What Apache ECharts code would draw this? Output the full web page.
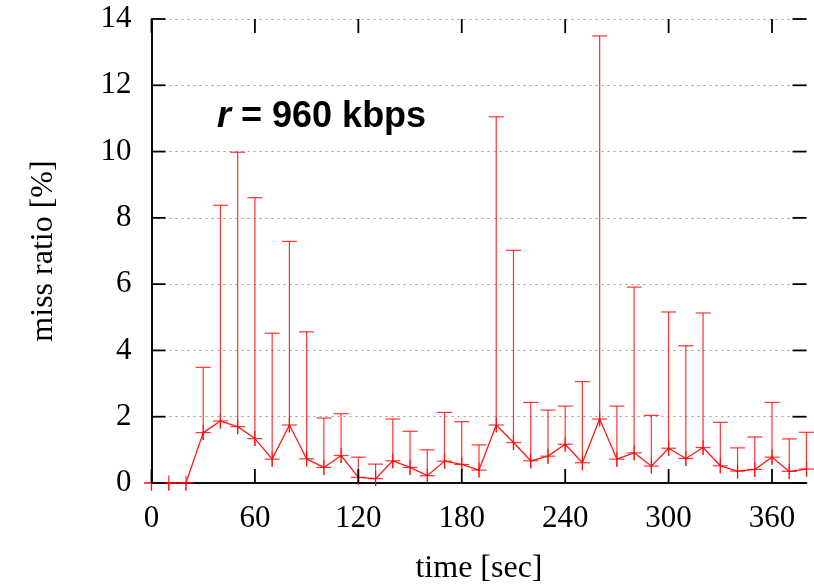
<!DOCTYPE html>
<html>
<head>
<meta charset="utf-8">
<script src="https://cdn.jsdelivr.net/npm/echarts@6/dist/echarts.min.js"></script>
<style>html,body{margin:0;padding:0;background:#fff}#c{width:814px;height:586px}</style>
</head>
<body>
<div id="c"></div>
<script>
const times = [0,10,20,30,40,50,60,70,80,90,100,110,120,130,140,150,160,170,180,190,200,210,220,230,240,250,260,270,280,290,300,310,320,330,340,350,360,370,380];
const meanRatio = [0,0,0,1.52,1.87,1.70,1.34,0.72,1.75,0.73,0.47,0.83,0.17,0.13,0.67,0.47,0.22,0.66,0.56,0.39,1.75,1.22,0.67,0.81,1.17,0.61,1.93,0.72,0.91,0.51,1.05,0.74,1.07,0.52,0.36,0.41,0.78,0.35,0.42];
const maxRatio = [0,0,0,3.49,8.38,9.98,8.61,4.52,7.29,4.56,1.96,2.09,0.78,0.57,1.93,1.56,1.00,2.13,1.85,1.15,11.05,7.02,2.43,2.20,2.32,3.06,13.49,2.32,5.91,2.04,5.16,4.14,5.13,1.83,1.06,1.39,2.43,1.33,1.53];
const xTicks = [0,60,120,180,240,300,360];
const yTicks = [0,2,4,6,8,10,12,14];
const xMax = 380, yMax = 14;

const serif = '"Liberation Serif", "DejaVu Serif", serif';
const red = 'rgba(255,0,0,0.8)';
const chart = echarts.init(document.getElementById('c'), null, {renderer: 'canvas'});

const lineData = times.map((t, i) => [t, meanRatio[i]]);
const errData = times.map((t, i) => [t, meanRatio[i], maxRatio[i]]);
const TICK = 14;
const tickLine = {stroke: '#000', lineWidth: 1.8};

const lineStyleAx = {show: true, lineStyle: {color: '#000', width: 1.6}};

chart.setOption({
  animation: false,
  backgroundColor: '#fff',
  grid: {left: 151.5, right: 7.5, top: 19, bottom: 103, containLabel: false, outerBoundsMode: 'none'},
  xAxis: [
    {
      type: 'value', min: 0, max: xMax, interval: 60, position: 'bottom',
      name: 'time [sec]', nameLocation: 'middle', nameGap: 70,
      nameTextStyle: {fontFamily: serif, fontSize: 32, color: '#000'},
      axisLine: lineStyleAx, axisTick: {show: false}, splitLine: {show: false},
      axisLabel: {show: true, margin: 20, fontFamily: serif, fontSize: 31, color: '#000',
        formatter: v => xTicks.includes(v) ? String(v) : ''}
    },
    {
      type: 'value', min: 0, max: xMax, interval: 60, position: 'top',
      axisLine: lineStyleAx, axisTick: {show: false}, splitLine: {show: false},
      axisLabel: {show: false}
    }
  ],
  yAxis: [
    {
      type: 'value', min: 0, max: yMax, interval: 2, position: 'left',
      name: 'miss ratio [%]', nameLocation: 'middle', nameGap: 92, nameRotate: 90,
      nameTextStyle: {fontFamily: serif, fontSize: 32, color: '#000'},
      axisLine: lineStyleAx, axisTick: {show: false},
      axisLabel: {show: true, margin: 20, fontFamily: serif, fontSize: 31, color: '#000',
        formatter: v => yTicks.includes(v) ? String(v) : ''},
      splitLine: {show: true, lineStyle: {color: '#999', width: 1, type: [2, 4]}}
    },
    {
      type: 'value', min: 0, max: yMax, interval: 2, position: 'right',
      axisLine: lineStyleAx, axisTick: {show: false}, splitLine: {show: false},
      axisLabel: {show: false}
    }
  ],
  series: [
    {
      type: 'line', xAxisIndex: 0, yAxisIndex: 0, data: lineData,
      symbol: 'none', clip: false,
      lineStyle: {color: 'rgba(255,0,0,0.9)', width: 1.3}, z: 3
    },
    {
      type: 'custom', xAxisIndex: 0, yAxisIndex: 0, data: errData, clip: false,
      encode: {x: 0, y: 1},
      renderItem: function (params, api) {
        const p = api.coord([api.value(0), api.value(1)]);
        const q = api.coord([api.value(0), api.value(2)]);
        const cap = 7.5, mk = 7.5;
        const st = {stroke: red, lineWidth: 1.2};
        return {type: 'group', children: [
          {type: 'line', shape: {x1: p[0], y1: p[1] + mk, x2: q[0], y2: q[1]}, style: st},
          {type: 'line', shape: {x1: q[0] - cap, y1: q[1], x2: q[0] + cap, y2: q[1]}, style: st},
          {type: 'line', shape: {x1: p[0] - mk, y1: p[1], x2: p[0] + mk, y2: p[1]}, style: st},
          {type: 'line', shape: {x1: p[0], y1: p[1] - mk, x2: p[0], y2: p[1] + mk}, style: st}
        ]};
      },
      z: 4
    },
    {
      type: 'custom', xAxisIndex: 0, yAxisIndex: 0, clip: false, silent: true,
      data: xTicks.map(v => [v, 0]), encode: {x: 0, y: 1},
      renderItem: function (params, api) {
        const b = api.coord([api.value(0), 0]);
        const t = api.coord([api.value(0), yMax]);
        return {type: 'group', children: [
          {type: 'line', shape: {x1: b[0], y1: b[1], x2: b[0], y2: b[1] - TICK}, style: tickLine},
          {type: 'line', shape: {x1: t[0], y1: t[1], x2: t[0], y2: t[1] + TICK}, style: tickLine}
        ]};
      },
      z: 6
    },
    {
      type: 'custom', xAxisIndex: 0, yAxisIndex: 0, clip: false, silent: true,
      data: yTicks.map(v => [0, v]), encode: {x: 0, y: 1},
      renderItem: function (params, api) {
        const l = api.coord([0, api.value(1)]);
        const r = api.coord([xMax, api.value(1)]);
        return {type: 'group', children: [
          {type: 'line', shape: {x1: l[0], y1: l[1], x2: l[0] + TICK, y2: l[1]}, style: tickLine},
          {type: 'line', shape: {x1: r[0], y1: r[1], x2: r[0] - TICK, y2: r[1]}, style: tickLine}
        ]};
      },
      z: 6
    }
  ],
  graphic: [{
    type: 'text', left: 217, top: 99, z: 10,
    style: {
      text: '{i|r}{b| = 960 kbps}',
      rich: {
        i: {fontFamily: '"Liberation Sans", Arial, sans-serif', fontWeight: 'bold', fontStyle: 'italic', fontSize: 36, fill: '#000'},
        b: {fontFamily: '"Liberation Sans", Arial, sans-serif', fontWeight: 'bold', fontSize: 36, fill: '#000'}
      }
    }
  }]
});
</script>
</body>
</html>
